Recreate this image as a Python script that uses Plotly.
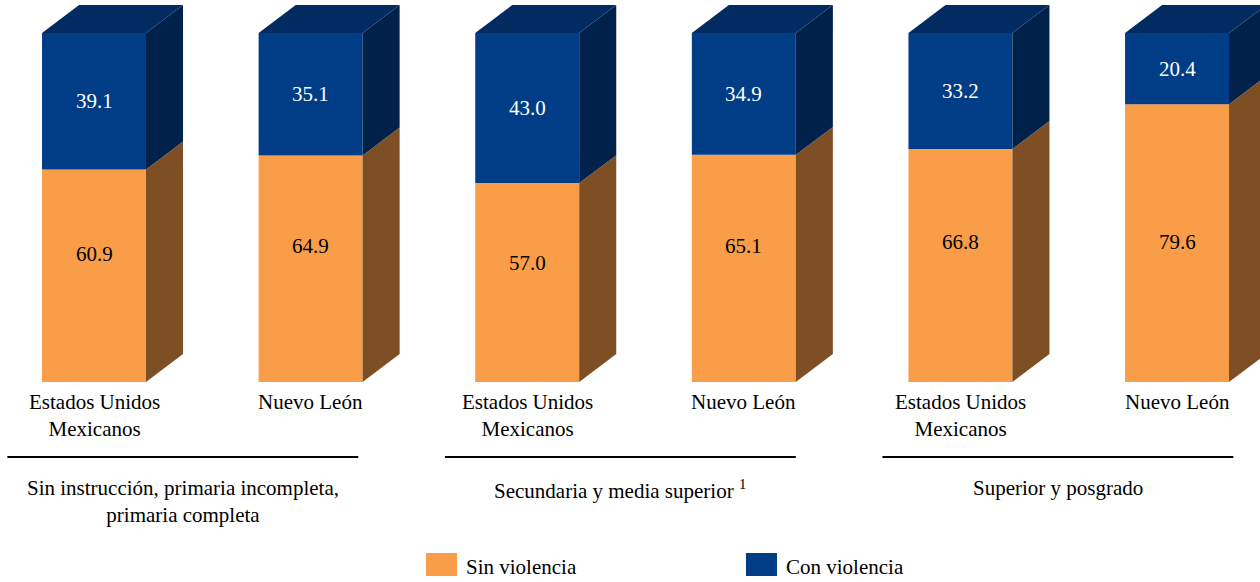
import plotly.graph_objects as go

# Distribución de mujeres por nivel de escolaridad y condición de violencia
categorias = ["Estados Unidos<br>Mexicanos", "Nuevo León",
              "Estados Unidos<br>Mexicanos", "Nuevo León",
              "Estados Unidos<br>Mexicanos", "Nuevo León"]
grupos = ["Sin instrucción, primaria incompleta,<br>primaria completa",
          "Secundaria y media superior <sup>1</sup>",
          "Superior y posgrado"]
sin_violencia = [60.9, 64.9, 57.0, 65.1, 66.8, 79.6]
con_violencia = [39.1, 35.1, 43.0, 34.9, 33.2, 20.4]

colors = {
    'sin': '#FA9D49', 'sin_side': '#7E4F25',
    'con': '#013D87', 'con_side': '#00224A', 'top': '#022C61',
}
FONT = "Liberation Serif, Times New Roman, serif"
FS = 21

W = 0.48      # ancho de la cara frontal
DX = 0.171    # profundidad horizontal
DY = 8.0      # profundidad vertical (unidades de %)

fig = go.Figure()
xs = list(range(len(categorias)))

fig.add_trace(go.Bar(x=xs, y=sin_violencia, width=W, marker_color=colors['sin'],
                     marker_line_width=0, name='Sin violencia', showlegend=False))
fig.add_trace(go.Bar(x=xs, y=con_violencia, base=sin_violencia, width=W,
                     marker_color=colors['con'], marker_line_width=0,
                     name='Con violencia', showlegend=False))


def poly(px, py, color):
    fig.add_trace(go.Scatter(x=px + [px[0]], y=py + [py[0]], mode='lines',
                             fill='toself', fillcolor=color,
                             line=dict(width=0, color=color),
                             hoverinfo='skip', showlegend=False))


for i, (s, c) in enumerate(zip(sin_violencia, con_violencia)):
    r = i + W / 2
    l = i - W / 2
    total = s + c
    # caras laterales
    poly([r, r + DX, r + DX, r], [0, DY, s + DY, s], colors['sin_side'])
    poly([r, r + DX, r + DX, r], [s, s + DY, total + DY, total], colors['con_side'])
    # cara superior
    poly([l, l + DX, r + DX, r], [total, total + DY, total + DY, total], colors['top'])

    # etiquetas de valores
    fig.add_annotation(x=i, y=min(0.6 * s, 40), text=f"{s:.1f}", showarrow=False,
                       font=dict(family=FONT, size=FS, color='black'))
    fig.add_annotation(x=i, y=s + c / 2, text=f"{c:.1f}", showarrow=False,
                       font=dict(family=FONT, size=FS, color='white'))
    # categoría
    fig.add_annotation(x=i, y=-1.8, text=categorias[i], showarrow=False,
                       yanchor='top', font=dict(family=FONT, size=FS, color='black'))

# separadores y nombres de grupo
for g, nombre in enumerate(grupos):
    x0 = 2 * g - 0.40 + 0.02 * g
    x1 = 2 * g + 1.22 + 0.02 * g
    fig.add_shape(type='line', x0=x0, x1=x1, y0=-21.5, y1=-21.5,
                  line=dict(color='black', width=2))
    fig.add_annotation(x=(x0 + x1) / 2, y=-26.3, text=nombre, showarrow=False,
                       yanchor='top', font=dict(family=FONT, size=FS, color='black'))

# leyenda manual
legend = [("Sin violencia", colors['sin'], 426), ("Con violencia", colors['con'], 746)]
for label, col, px0 in legend:
    fig.add_shape(type='rect', xref='paper', yref='paper',
                  x0=px0 / 1260, x1=(px0 + 31) / 1260,
                  y0=(582 - 576) / 582, y1=(582 - 553) / 582,
                  fillcolor=col, line_width=0)
    fig.add_annotation(xref='paper', yref='paper', x=(px0 + 38) / 1260,
                       y=(582 - 567) / 582, text=label, showarrow=False,
                       xanchor='left', yanchor='middle',
                       font=dict(family=FONT, size=FS, color='black'))

fig.update_layout(
    width=1260, height=582,
    margin=dict(l=0, r=0, t=0, b=0),
    plot_bgcolor='white', paper_bgcolor='white',
    barmode='overlay', hovermode=False,
    xaxis=dict(range=[-0.434, 5.383], visible=False, fixedrange=True),
    yaxis=dict(range=[-57.3, 109.46], visible=False, fixedrange=True),
)

fig.write_html("out.html", config={'displayModeBar': False},
               post_script="document.body.style.margin='0';")
